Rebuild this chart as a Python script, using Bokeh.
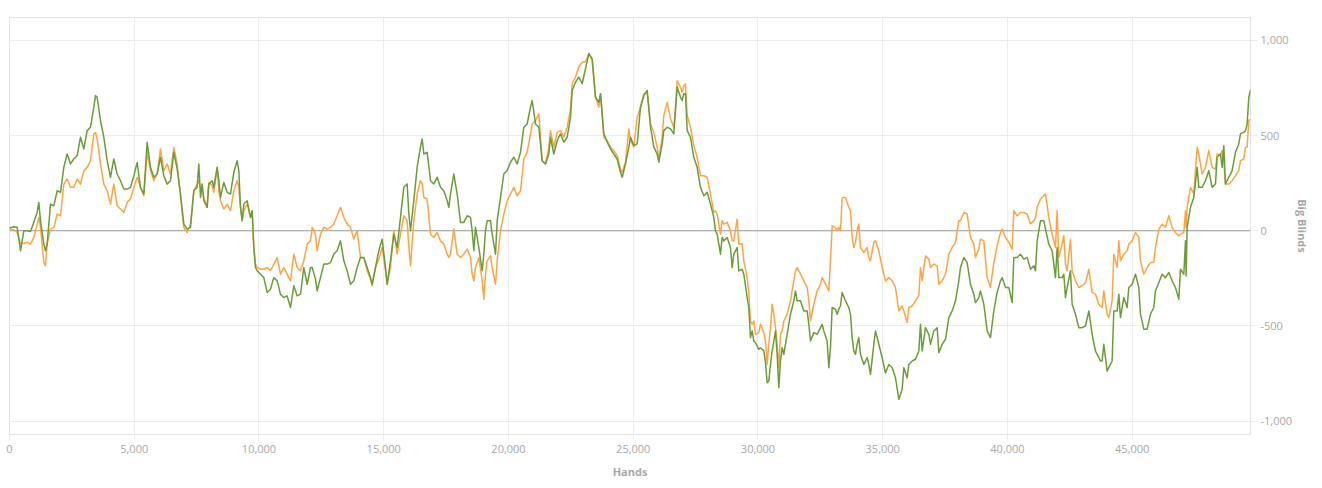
from bokeh.plotting import figure
from bokeh.models import (ColumnDataSource, Range1d, Span,
                          SingleIntervalTicker, NumeralTickFormatter)
from bokeh.embed import file_html
from bokeh.resources import INLINE

# ---- data (hands played vs. winnings in big blinds) ----
HANDS = [
    0, 173, 307, 441, 574, 708, 841, 975, 1109, 1175, 1242, 1376, 1443, 1509, 1643, 1777, 1910, 2044,
    2177, 2311, 2445, 2578, 2712, 2845, 2979, 3113, 3246, 3380, 3447, 3513, 3647, 3781, 3914, 4048,
    4181, 4315, 4449, 4582, 4716, 4849, 4983, 5117, 5250, 5384, 5517, 5651, 5785, 5918, 6052, 6185,
    6319, 6453, 6586, 6720, 6853, 6987, 7121, 7254, 7388, 7521,
    7588, 7655, 7722, 7788, 7922, 7989, 8122, 8189, 8323, 8390, 8456, 8590, 8724, 8857, 8991, 9124,
    9191, 9258, 9325, 9392, 9525, 9659, 9726, 9792, 9859, 9926, 10060, 10193, 10327, 10460, 10594,
    10728, 10861, 10995, 11128, 11262, 11396, 11529, 11663, 11796, 11930, 12064, 12130, 12264, 12331,
    12464, 12598, 12732, 12865, 12999, 13132, 13266, 13400, 13533, 13667, 13800, 13934, 14068, 14201,
    14335, 14468, 14535, 14669, 14802, 14936, 15070, 15136, 15270, 15403, 15537, 15671, 15804, 15938,
    16005, 16072, 16205, 16339, 16472, 16539, 16606, 16740,
    16874, 17007, 17141, 17275, 17408, 17542, 17609, 17675, 17809, 17943, 18076, 18210, 18343, 18477,
    18544, 18611, 18677, 18811, 18945, 19011, 19078, 19145, 19279, 19345, 19479, 19546, 19680, 19813,
    19947, 20080, 20214, 20347, 20481, 20615, 20748, 20882, 20949, 21082, 21216, 21349, 21483, 21617,
    21683, 21817, 21951, 22084, 22218, 22351, 22485, 22552, 22685, 22819, 22953, 23086, 23220, 23354,
    23487, 23621, 23688, 23821, 23955, 24089, 24222, 24356, 24489, 24556, 24690, 24823, 24890, 25024,
    25157, 25291, 25424, 25558, 25692,
    25825, 25958, 26025, 26159, 26225, 26359, 26493, 26626, 26693, 26760, 26893, 26960, 27027, 27094,
    27161, 27294, 27428, 27561, 27695, 27829, 27962, 28096, 28229, 28296, 28363, 28497, 28563, 28630,
    28764, 28897, 28964, 29031, 29164, 29231, 29365, 29432, 29565, 29632, 29699, 29766, 29833, 29899,
    30033, 30100, 30233, 30300, 30367, 30434, 30501, 30567, 30634, 30701, 30768, 30834, 30901, 30968,
    31035, 31168, 31302, 31436, 31502, 31569, 31703, 31836, 31970, 32037, 32104, 32237, 32371, 32504,
    32571, 32638, 32772, 32838, 32905, 32972, 33106, 33172, 33239, 33306, 33373, 33506, 33640, 33707,
    33774, 33840, 33907, 33974, 34041, 34108, 34241, 34375, 34442, 34509,
    34643, 34709, 34843, 34977, 35110, 35244, 35377, 35511, 35645, 35778, 35845, 35979, 36045, 36179,
    36313, 36446, 36513, 36580, 36713, 36847, 36914, 37047, 37181, 37248, 37381, 37515, 37649, 37782,
    37916, 38049, 38116, 38250, 38383, 38517, 38650, 38717, 38851, 38918, 39051, 39185, 39318, 39452,
    39585, 39719, 39786, 39920, 40053, 40187, 40254, 40387, 40521, 40654, 40788, 40922, 41055, 41122,
    41189, 41322, 41456, 41523, 41656, 41790, 41923, 41990, 42057, 42191, 42258, 42324, 42391, 42525,
    42591, 42725, 42859, 42992, 43126, 43260, 43393, 43527, 43660, 43727,
    43794, 43860, 43994, 44061, 44194, 44261, 44395, 44462, 44528, 44662, 44796, 44862, 44996, 45130,
    45263, 45330, 45464, 45597, 45731, 45864, 45931, 46065, 46198, 46332, 46466, 46599, 46733, 46866,
    46933, 47067, 47134, 47160, 47200, 47334, 47468, 47601, 47668, 47802, 47935, 48069, 48202, 48336,
    48403, 48536, 48603, 48670, 48737, 48870, 49004, 49137, 49271, 49338, 49471, 49538, 49605, 49672,
    49739,
]

GREEN = [
    15, 21, 18, -105, 0, 0, -4, 44, 96, 149, 53, -70, -105, -70, 140, 131, 210, 202,
    333, 403, 351, 377, 395, 491, 430, 526, 544, 649, 710, 701, 579, 491, 368, 281,
    377, 298, 263, 219, 219, 228, 289, 359, 228, 193, 465, 333, 281, 298, 386, 289,
    245, 263, 412, 324, 193, 35, 9, 18, 210, 228,
    351, 175, 246, 158, 123, 246, 263, 228, 333, 263, 175, 254, 202, 193, 307, 368,
    316, 123, 53, 140, 158, 70, 105, -88, -193, -210, -228, -246, -324, -307, -246,
    -263, -333, -351, -342, -403, -289, -342, -333, -193, -281, -193, -193, -254, -316,
    -246, -175, -175, -167, -123, -105, -53, -158, -210, -281, -263, -193, -140, -140,
    -193, -246, -281, -193, -105, -44, -193, -281, -158, -18, -88, 70, 228, 246,
    88, 0, 158, 333, 439, 482, 403, 412,
    263, 246, 281, 228, 210, 158, 123, 193, 298, 193, 44, 44, 79, 70,
    0, -105, 18, -88, -210, -123, 0, 53, 53, -18, -123, 53, 175, 298,
    316, 360, 386, 351, 412, 544, 561, 649, 684, 561, 544, 368, 351, 403,
    491, 403, 474, 509, 465, 491, 596, 737, 780, 807, 772, 851, 930, 903,
    702, 675, 719, 509, 465, 430, 403, 377, 307, 281, 351, 439, 491, 447,
    456, 649, 710, 737, 544,
    439, 403, 360, 456, 526, 544, 535, 509, 632, 754, 702, 684, 719, 719,
    526, 491, 386, 333, 228, 184, 202, 140, 70, 0, -18, -123, -35, -53,
    -35, -88, -193, -123, -88, -211, -202, -228, -351, -403, -561, -526, -579, -588,
    -623, -614, -631, -693, -798, -789, -702, -631, -579, -526, -649, -824, -684, -614,
    -649, -544, -439, -368, -316, -368, -368, -421, -421, -491, -579, -535, -544, -509,
    -491, -526, -579, -719, -614, -403, -412, -439, -412, -395, -324, -368, -403, -439,
    -561, -631, -649, -596, -561, -649, -702, -667, -702, -754,
    -596, -526, -596, -667, -747, -702, -719, -772, -886, -833, -719, -772, -702, -684,
    -675, -631, -491, -631, -509, -544, -596, -526, -509, -640, -596, -570, -456, -421,
    -368, -263, -193, -140, -167, -281, -333, -377, -351, -316, -386, -526, -561, -421,
    -324, -263, -246, -298, -298, -377, -140, -140, -123, -149, -140, -202, -184, -210,
    -53, 53, 53, 9, -70, -105, -246, -88, -246, -246, -228, -351, -298, -210,
    -386, -439, -509, -509, -500, -421, -544, -632, -666, -684,
    -684, -596, -737, -719, -684, -421, -421, -333, -456, -351, -403, -298, -281, -228,
    -298, -438, -517, -517, -438, -403, -316, -272, -228, -246, -219, -263, -298, -359,
    -202, -228, -53, -237, 18, 123, 175, 333, 228, 228, 263, 316, 228, 246,
    386, 403, 333, 447, 246, 281, 316, 412, 456, 509, 518, 526, 560, 700,
    740,
]

ORANGE = [
    10, 4, -9, -67, -67, -61, -70, -35, 35, 70, 18, -167, -184, -70, 9, 18, 88, 79,
    245, 272, 228, 228, 272, 245, 316, 333, 368, 509, 516, 482, 351, 245, 210, 140,
    245, 131, 114, 96, 149, 167, 228, 281, 228, 184, 412, 316, 263, 298, 430, 316,
    351, 298, 438, 351, 184, 18, -9, 35, 210, 245,
    263, 228, 219, 175, 123, 254, 237, 202, 333, 210, 158, 114, 140, 105, 210, 263,
    228, 123, 53, 105, 140, 70, 105, -88, -175, -193, -202, -202, -193, -210, -175,
    -140, -228, -193, -228, -263, -123, -193, -210, -158, -70, -53, 18, -18, -105,
    -18, 18, 9, 18, 35, 79, 123, 70, 35, 18, -44, 0, -140, -140,
    -210, -254, -289, -193, -149, -88, -210, -281, -193, 0, -123, -18, 79, 53,
    -88, -184, 53, 193, 263, 246, 175, 167,
    -18, -35, -9, -53, -70, -123, -140, -123, 9, -123, -140, -123, -96, -140,
    -228, -263, -193, -140, -263, -360, -228, -158, -132, -193, -281, -158, 0, 88,
    158, 193, 228, 184, 210, 377, 412, 509, 561, 579, 614, 368, 351, 439,
    526, 439, 517, 526, 491, 544, 640, 772, 807, 860, 886, 886, 930, 895,
    702, 649, 719, 491, 474, 439, 421, 395, 324, 307, 360, 535, 474, 439,
    596, 649, 719, 728, 561,
    517, 439, 377, 491, 605, 675, 588, 544, 649, 789, 754, 728, 763, 772,
    605, 544, 447, 386, 289, 289, 281, 193, 96, 105, 88, -18, 53, 35,
    44, 0, -53, -53, 61, -70, -70, -158, -246, -333, -474, -491, -474, -544,
    -535, -491, -535, -579, -702, -596, -509, -386, -439, -509, -596, -719, -544, -526,
    -474, -439, -368, -263, -210, -193, -228, -263, -298, -368, -474, -386, -316, -281,
    -246, -263, -298, -316, -158, 26, 18, 0, 18, 0, 175, 175, 123, 105,
    -35, -88, -61, 0, 35, -88, -114, -88, -140, -158,
    -61, -53, -105, -193, -263, -246, -263, -298, -421, -395, -421, -482, -403, -395,
    -368, -342, -193, -263, -132, -149, -193, -175, -184, -281, -263, -228, -123, -88,
    -61, 53, 53, 96, 88, -35, -70, -140, -96, -44, -53, -246, -298, -167,
    -79, -9, 9, -35, -61, -96, 105, 79, 96, 96, 88, 35, 53, 70,
    123, 166, 184, 193, 70, -18, -88, 105, -140, -70, -26, -175, -210, -44,
    -210, -263, -298, -289, -272, -202, -324, -333, -386, -395,
    -403, -316, -439, -456, -368, -123, -193, -53, -158, -123, -105, -70, -53, -9,
    -35, -158, -228, -193, -167, -167, -88, 9, 35, 18, 79, 18, -9, -26,
    -18, -9, 105, 18, 123, 228, 193, 438, 403, 298, 333, 421, 333, 324,
    403, 395, 421, 360, 246, 246, 263, 289, 316, 368, 377, 438, 440, 580,
    585,
]

Y_TICK_STEP = 500
X_TICK_STEP = 5000
X_END = 49740
Y_START, Y_END = -1070, 1120

GREEN_COLOR = "#6a9c3a"
ORANGE_COLOR = "#ffa445"
GRID = "#ececec"
TEXT = "#a8a8a8"
FONT = "Open Sans"

src = ColumnDataSource(dict(hands=HANDS, green=GREEN, orange=ORANGE))

p = figure(width=1320, height=486, output_backend="svg", toolbar_location=None,
           x_range=Range1d(0, X_END), y_range=Range1d(Y_START, Y_END),
           x_axis_location="below", y_axis_location="right",
           min_border_left=9, min_border_top=17, min_border_right=70, min_border_bottom=52)

p.background_fill_color = "white"
p.border_fill_color = "white"
p.outline_line_color = "#e3e3e3"
p.outline_line_width = 1

zero = Span(location=0, dimension="width", line_color="#9a9a9a", line_width=1, level="underlay")
p.add_layout(zero)

p.line("hands", "orange", source=src, line_color=ORANGE_COLOR, line_width=1.5, line_join="round")
p.line("hands", "green", source=src, line_color=GREEN_COLOR, line_width=1.5, line_join="round")

xt = SingleIntervalTicker(interval=X_TICK_STEP, num_minor_ticks=0)
yt = SingleIntervalTicker(interval=Y_TICK_STEP, num_minor_ticks=0)

xa = p.xaxis[0]
xa.ticker = xt
xa.formatter = NumeralTickFormatter(format="0,0")
xa.axis_label = "Hands"
ya = p.yaxis[0]
ya.ticker = yt
ya.formatter = NumeralTickFormatter(format="0,0")
ya.axis_label = "Big Blinds"

for ax in (xa, ya):
    ax.axis_line_color = None
    ax.major_tick_line_color = GRID
    ax.major_tick_in = 0
    ax.minor_tick_line_color = None
    ax.major_label_text_color = TEXT
    ax.major_label_text_font = FONT
    ax.major_label_text_font_size = "11px"
    ax.axis_label_text_color = TEXT
    ax.axis_label_text_font = FONT
    ax.axis_label_text_font_size = "11px"
    ax.axis_label_text_font_style = "bold"

xa.major_tick_out = 6
xa.major_label_standoff = 4
xa.axis_label_standoff = 8
ya.major_tick_out = 7
ya.major_label_standoff = 3
ya.axis_label_standoff = 0

p.xgrid.ticker = xt
p.ygrid.ticker = yt
p.xgrid.grid_line_color = GRID
p.ygrid.grid_line_color = GRID

open("out.html", "w").write(file_html(p, INLINE))
